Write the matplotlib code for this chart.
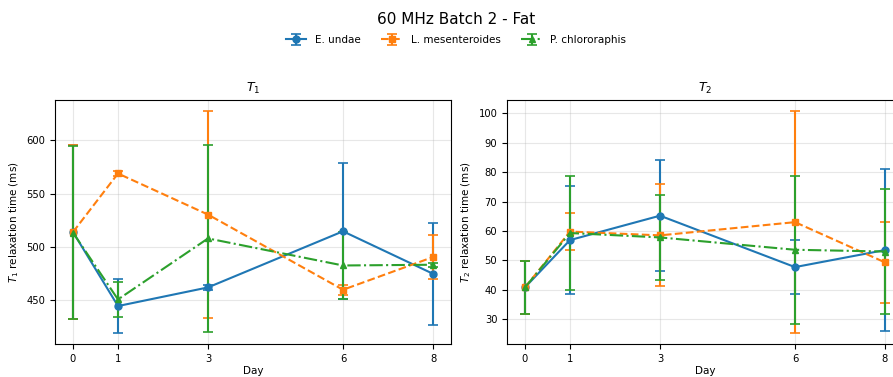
import matplotlib
matplotlib.use("Agg")
import matplotlib.pyplot as plt
import numpy as np

days = [0, 1, 3, 6, 8]
series = ["E. undae", "L. mesenteroides", "P. chlororaphis"]

t1_undae = [514, 444.5, 462, 514.7, 474.8]
t1_undae_err = [81.5, 25.5, 2.5, 63.7, 47.7]
t1_meso = [514, 569, 530.4, 459.8, 490.5]
t1_meso_err = [81.5, 2.0, 97.2, 4.5, 21.0]
t1_chloro = [513.4, 450.7, 508, 482.6, 483.3]
t1_chloro_err = [81.5, 16.5, 87.5, 31.6, 2.0]

t2_undae = [40.8, 56.9, 65.2, 47.7, 53.5]
t2_undae_err = [9.1, 18.5, 18.8, 9.3, 27.5]
t2_meso = [40.8, 59.8, 58.5, 63.0, 49.3]
t2_meso_err = [9.1, 6.4, 17.4, 37.8, 13.7]
t2_chloro = [40.8, 59.3, 57.8, 53.6, 53.0]
t2_chloro_err = [9.1, 19.3, 14.6, 25.1, 21.2]

colors = ["#1f77b4", "#ff7f0e", "#2ca02c"]
markers = ["o", "s", "^"]
styles = ["-", "--", "-."]

W, H = 893, 377
fig = plt.figure(figsize=(W / 100, H / 100), dpi=100)

def px_axes(x0, y0, x1, y1):
    return fig.add_axes([x0 / W, (H - y1) / H, (x1 - x0) / W, (y1 - y0) / H])

ax1 = px_axes(55, 100, 451, 344.3)
ax2 = px_axes(507, 100, 903, 344.3)

data = [
    (ax1, [t1_undae, t1_meso, t1_chloro], [t1_undae_err, t1_meso_err, t1_chloro_err],
     "$T_1$", "$T_1$ relaxation time (ms)"),
    (ax2, [t2_undae, t2_meso, t2_chloro], [t2_undae_err, t2_meso_err, t2_chloro_err],
     "$T_2$", "$T_2$ relaxation time (ms)"),
]

handles = []
for ax, vals, errs, title, ylabel in data:
    hs = []
    for i in range(3):
        h = ax.errorbar(days, vals[i], yerr=errs[i], color=colors[i], marker=markers[i],
                        linestyle=styles[i], linewidth=1.5, markersize=5, capsize=3.5,
                        capthick=1.2, elinewidth=1.5, label=series[i])
        hs.append(h)
    handles = hs
    ax.set_title(title, fontsize=9)
    ax.set_ylabel(ylabel, fontsize=7.5)
    ax.set_xlabel("Day", fontsize=7.5, labelpad=1.5)
    ax.set_xticks(days)
    ax.tick_params(labelsize=7.2)
    ax.grid(True, alpha=0.3)

fig.suptitle("60 MHz Batch 2 - Fat", x=456.5 / W, y=1 - 20 / H, va="center", fontsize=11)
fig.legend(handles, series, loc="center", bbox_to_anchor=(456 / W, 1 - 40 / H),
           ncol=3, frameon=False, fontsize=7.5)

fig.savefig("out.png", dpi=100)
